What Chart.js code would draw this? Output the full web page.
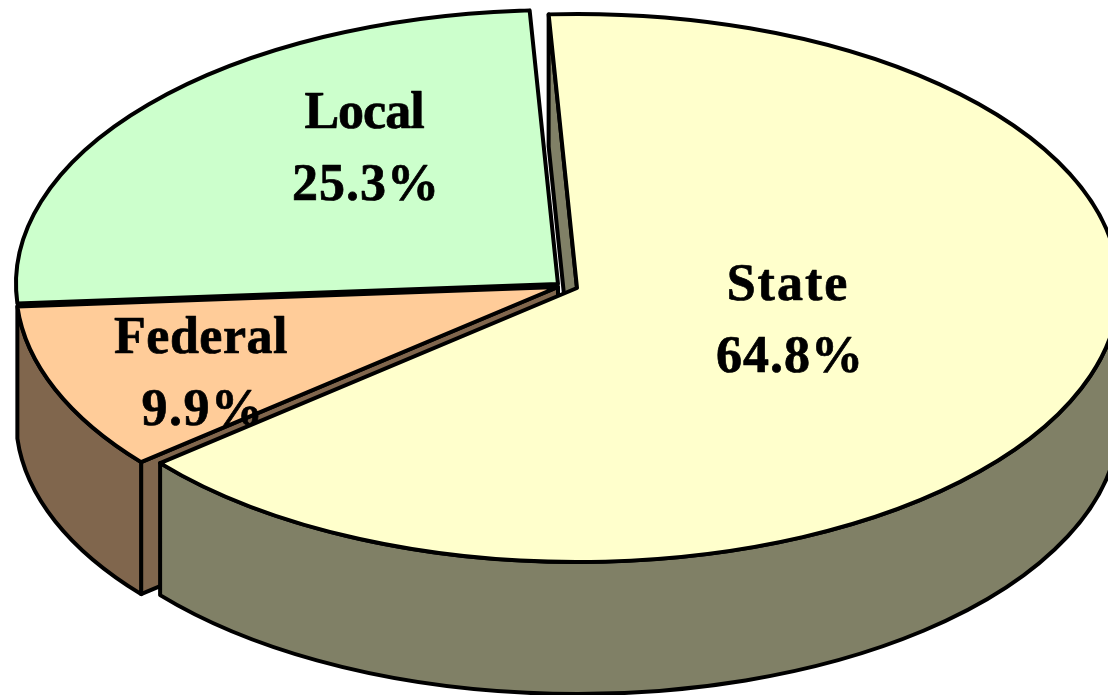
<!DOCTYPE html>
<html>
<head>
<meta charset="utf-8">
<style>html,body{margin:0;padding:0;background:#fff}canvas{display:block}</style>
<script src="https://cdn.jsdelivr.net/npm/chart.js@4"></script>
</head>
<body>
<canvas id="c" width="1108" height="695"></canvas>
<script>
const categories = ["State", "Federal", "Local"];
const shares = [64.8, 9.9, 25.3];
const topColors = ["#FFFFCC", "#FFCC99", "#CCFFCC"];
const wallColors = ["#808066", "#80664D", "#808066"];

const view = {
  rx: 542, ry: 274, depth: 132, line: 4,
  centres: [[577, 288], [558, 287], [558, 284]],
  labels: [[788, 300, 790, 372, "2px", "1px"], [201, 353, 203, 425, "0.5px", "1.5px"], [364, 128, 366, 200, "-1px", "1px"]]
};

const pie3d = {
  id: "pie3d",
  beforeDatasetsDraw(chart) {
    const ctx = chart.ctx;
    const arcs = chart.getDatasetMeta(0).data;
    const S = 0, F = 1, L = 2;

    const pt = (i, a, dy = 0) => [
      view.centres[i][0] + view.rx * Math.cos(a),
      view.centres[i][1] + view.ry * Math.sin(a) + dy
    ];
    const ellipse = (i, a0, a1, dy, ccw) => {
      const [cx, cy] = view.centres[i];
      ctx.ellipse(cx, cy + dy, view.rx, view.ry, 0, a0, a1, ccw);
    };
    const finish = (fill) => {
      ctx.fillStyle = fill;
      ctx.fill();
      ctx.lineWidth = view.line;
      ctx.lineJoin = "round";
      ctx.strokeStyle = "#000";
      ctx.stroke();
    };
    const cutFace = (i, a) => {
      const [cx, cy] = view.centres[i];
      const p = pt(i, a), q = pt(i, a, view.depth);
      ctx.beginPath();
      ctx.moveTo(cx, cy);
      ctx.lineTo(p[0], p[1]);
      ctx.lineTo(q[0], q[1]);
      ctx.lineTo(cx, cy + view.depth);
      ctx.closePath();
      finish(wallColors[i]);
    };
    const rim = (i, a0, a1) => {
      const q = pt(i, a1, view.depth);
      ctx.beginPath();
      ellipse(i, a0, a1, 0, false);
      ctx.lineTo(q[0], q[1]);
      ellipse(i, a1, a0, view.depth, true);
      ctx.closePath();
      finish(wallColors[i]);
    };
    const top = (i) => {
      const arc = arcs[i];
      const [cx, cy] = view.centres[i];
      ctx.save();
      ctx.translate(cx, cy);
      ctx.scale(view.rx / arc.outerRadius, view.ry / arc.outerRadius);
      ctx.translate(-arc.x, -arc.y);
      arc.draw(ctx);
      ctx.restore();
      ctx.beginPath();
      ctx.moveTo(cx, cy);
      ellipse(i, arc.startAngle, arc.endAngle, 0, false);
      ctx.closePath();
      ctx.lineWidth = view.line;
      ctx.lineJoin = "round";
      ctx.strokeStyle = "#000";
      ctx.stroke();
    };
    const label = (i) => {
      const [x1, y1, x2, y2, sp1, sp2] = view.labels[i];
      ctx.fillStyle = "#000";
      ctx.strokeStyle = "#000";
      ctx.lineWidth = 0.7;
      ctx.lineJoin = "round";
      ctx.font = 'bold 52px "Liberation Serif"';
      ctx.textAlign = "center";
      ctx.textBaseline = "alphabetic";
      ctx.letterSpacing = sp1;
      ctx.fillText(categories[i], x1, y1);
      ctx.strokeText(categories[i], x1, y1);
      ctx.letterSpacing = sp2;
      const pct = shares[i].toFixed(1) + "%";
      ctx.fillText(pct, x2, y2);
      ctx.strokeText(pct, x2, y2);
      ctx.letterSpacing = "0px";
    };

    cutFace(S, arcs[S].startAngle);
    top(L);
    cutFace(F, arcs[F].startAngle);
    rim(F, arcs[F].startAngle, arcs[F].endAngle);
    top(F);
    label(F);
    label(L);
    rim(S, 0, arcs[S].endAngle);
    top(S);
    label(S);
    return false;
  }
};

new Chart(document.getElementById("c"), {
  type: "pie",
  data: {
    labels: categories,
    datasets: [{
      data: shares,
      backgroundColor: topColors,
      borderWidth: 0
    }]
  },
  options: {
    responsive: false,
    animation: false,
    rotation: -3,
    plugins: { legend: { display: false }, tooltip: { enabled: false } }
  },
  plugins: [pie3d]
});
</script>
</body>
</html>
